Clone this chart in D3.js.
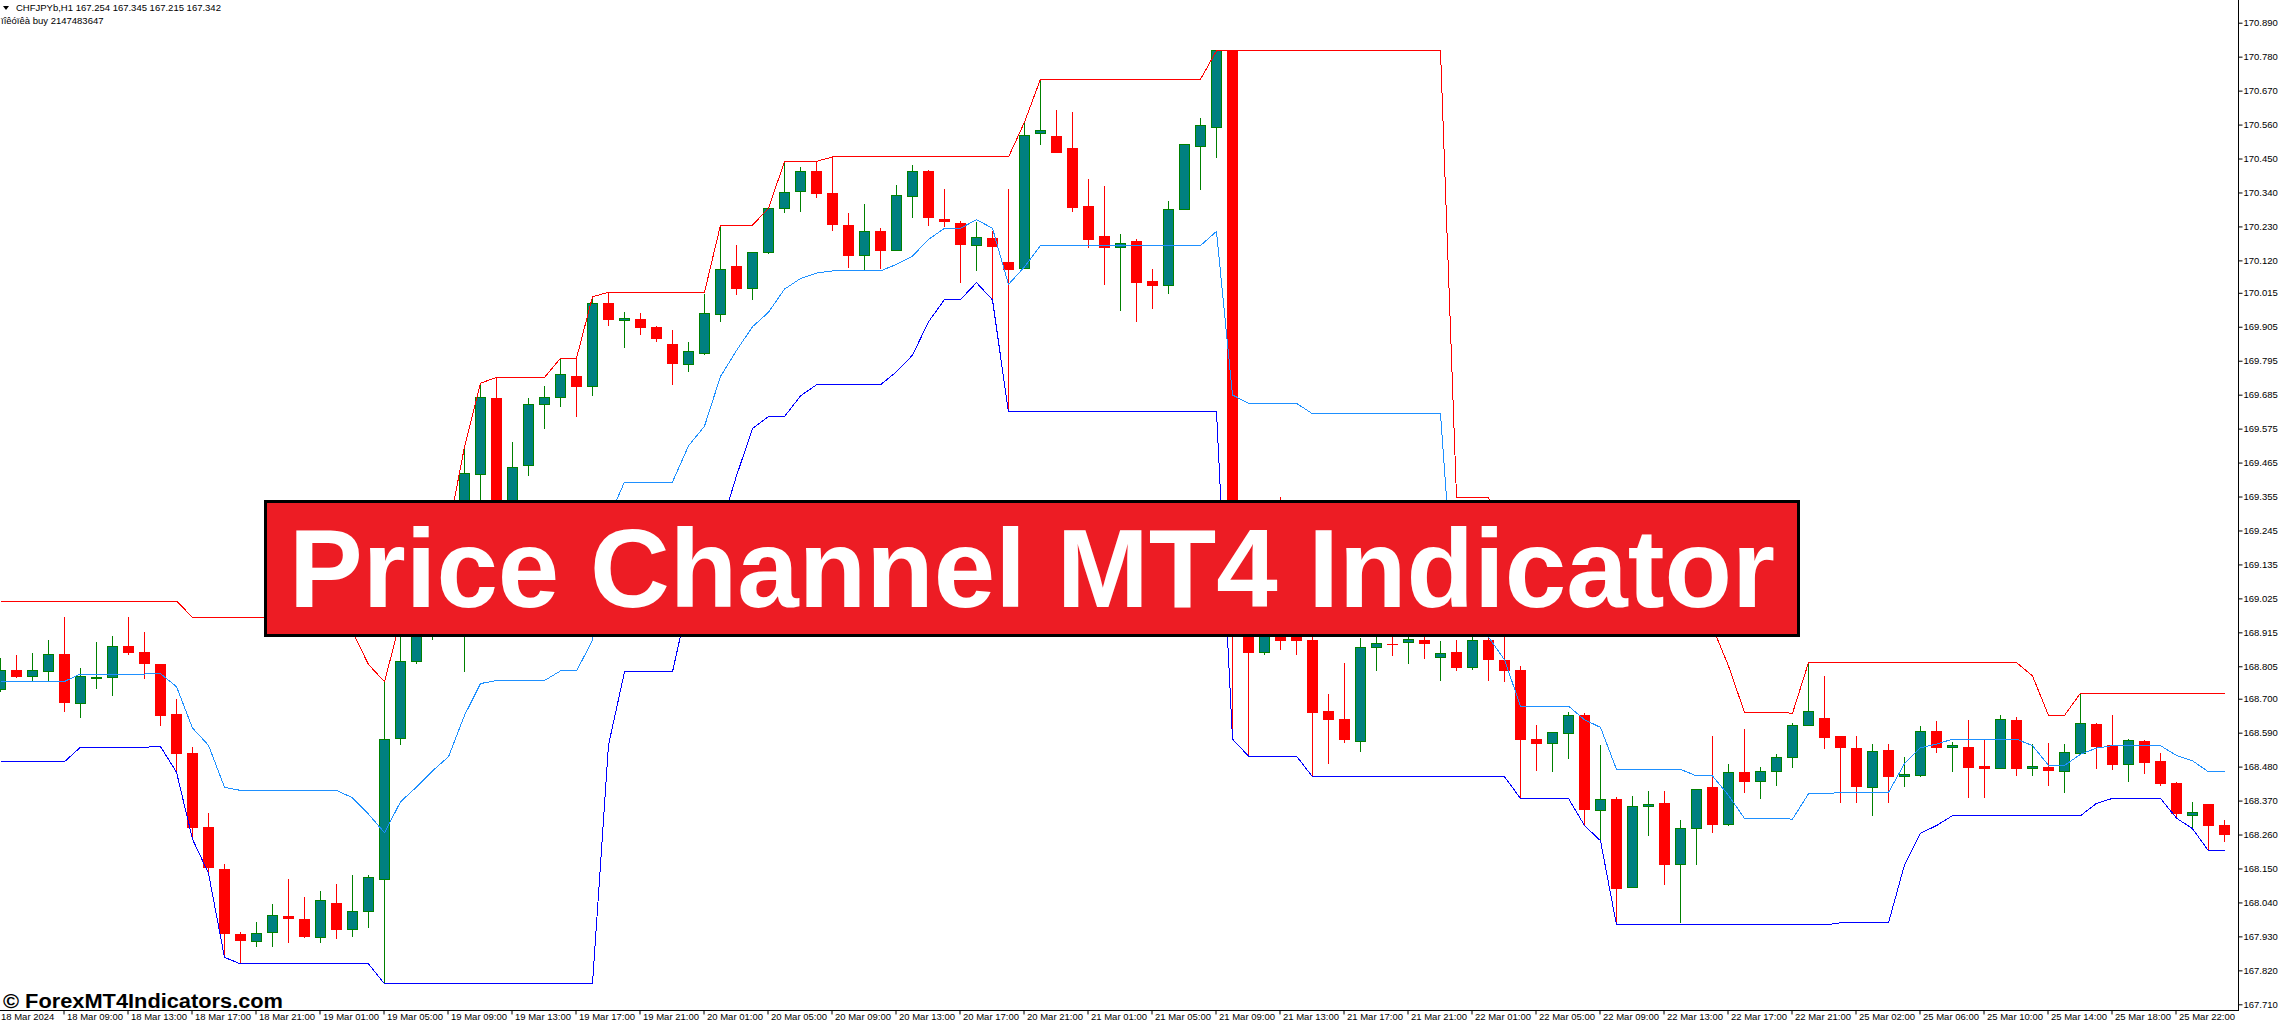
<!DOCTYPE html>
<meta charset="utf-8">
<style>
body { margin: 0; background: #fff; }
svg { display: block; font-family: "Liberation Sans", Arial, sans-serif; }
.axis text { font-size: 9.5px; fill: #000; }
.axis .domain { display: none; }
</style>
<svg width="2278" height="1025"></svg>
<script src="https://d3js.org/d3.v7.min.js"></script>
<script>
// CHFJPY H1 bars, oldest first
var open = [
  168.730, 168.792, 168.771, 168.789, 168.844, 168.684, 168.765, 168.768, 168.870, 168.850,
  168.811, 168.650, 168.523, 168.283, 168.147, 167.937, 167.914, 167.943, 167.995, 167.985,
  167.927, 168.038, 167.953, 168.011, 168.115, 168.572, 168.820, 168.981, 169.130, 169.149,
  169.427, 169.674, 169.279, 169.455, 169.654, 169.676, 169.745, 169.711, 169.979, 169.926,
  169.930, 169.904, 169.849, 169.783, 169.818, 169.944, 170.099, 170.028, 170.145, 170.289,
  170.342, 170.409, 170.337, 170.234, 170.135, 170.214, 170.153, 170.328, 170.409, 170.253,
  170.240, 170.168, 170.192, 170.114, 170.093, 170.530, 170.520, 170.484, 170.296, 170.196,
  170.161, 170.180, 170.053, 170.038, 170.284, 170.488, 170.550, 170.799, 169.020, 168.849,
  168.955, 168.923, 168.890, 168.660, 168.634, 168.561, 168.866, 168.877, 168.881, 168.889,
  168.834, 168.851, 168.800, 168.889, 168.825, 168.793, 168.569, 168.554, 168.588, 168.647,
  168.338, 168.374, 168.089, 168.350, 168.359, 168.162, 168.279, 168.413, 168.292, 168.462,
  168.431, 168.464, 168.509, 168.612, 168.637, 168.576, 168.540, 168.412, 168.531, 168.447,
  168.451, 168.595, 168.541, 168.541, 168.480, 168.473, 168.631, 168.473, 168.478, 168.464,
  168.522, 168.618, 168.548, 168.486, 168.560, 168.495, 168.424, 168.322, 168.356, 168.288
];
var high = [
  168.831, 168.842, 168.847, 168.890, 168.964, 168.799, 168.884, 168.902, 168.964, 168.916,
  168.811, 168.698, 168.543, 168.329, 168.165, 167.944, 167.976, 168.035, 168.116, 168.057,
  168.077, 168.100, 168.129, 168.129, 168.755, 168.955, 169.052, 169.156, 169.247, 169.516,
  169.722, 169.741, 169.532, 169.674, 169.713, 169.803, 169.803, 170.002, 170.017, 169.954,
  169.951, 169.907, 169.894, 169.856, 170.011, 170.234, 170.170, 170.147, 170.289, 170.440,
  170.423, 170.441, 170.455, 170.274, 170.303, 170.224, 170.364, 170.429, 170.412, 170.350,
  170.247, 170.245, 170.215, 170.351, 170.568, 170.707, 170.607, 170.601, 170.384, 170.362,
  170.205, 170.189, 170.092, 170.312, 170.496, 170.581, 170.799, 170.799, 169.085, 169.020,
  169.353, 169.204, 168.939, 168.715, 168.817, 168.897, 168.923, 168.916, 168.929, 168.923,
  168.887, 168.889, 168.974, 168.916, 168.932, 168.806, 168.615, 168.591, 168.656, 168.653,
  168.549, 168.381, 168.385, 168.402, 168.402, 168.307, 168.407, 168.579, 168.488, 168.602,
  168.479, 168.521, 168.622, 168.817, 168.774, 168.576, 168.579, 168.553, 168.553, 168.511,
  168.612, 168.629, 168.560, 168.631, 168.570, 168.646, 168.640, 168.552, 168.557, 168.552,
  168.718, 168.620, 168.646, 168.570, 168.566, 168.523, 168.431, 168.364, 168.356, 168.307
];
var low = [
  168.721, 168.768, 168.758, 168.758, 168.658, 168.638, 168.731, 168.710, 168.842, 168.765,
  168.613, 168.462, 168.245, 168.134, 167.862, 167.841, 167.897, 167.897, 167.910, 167.926,
  167.910, 167.921, 167.929, 167.958, 167.776, 168.550, 168.812, 168.890, 169.020, 168.787,
  169.020, 169.149, 169.253, 169.422, 169.575, 169.646, 169.614, 169.681, 169.908, 169.837,
  169.878, 169.857, 169.717, 169.759, 169.813, 169.921, 170.008, 169.993, 170.141, 170.274,
  170.278, 170.323, 170.216, 170.096, 170.086, 170.093, 170.149, 170.258, 170.232, 170.227,
  170.048, 170.087, 169.992, 169.629, 170.093, 170.494, 170.469, 170.278, 170.161, 170.040,
  169.957, 169.921, 169.963, 170.012, 170.284, 170.349, 170.453, 168.569, 168.514, 168.843,
  168.858, 168.843, 168.447, 168.489, 168.558, 168.528, 168.791, 168.839, 168.811, 168.828,
  168.758, 168.790, 168.794, 168.758, 168.755, 168.377, 168.467, 168.464, 168.506, 168.289,
  168.240, 167.967, 168.089, 168.256, 168.097, 167.974, 168.162, 168.264, 168.289, 168.396,
  168.374, 168.418, 168.475, 168.612, 168.538, 168.361, 168.363, 168.321, 168.361, 168.415,
  168.447, 168.525, 168.464, 168.379, 168.377, 168.473, 168.451, 168.451, 168.418, 168.396,
  168.522, 168.473, 168.469, 168.431, 168.456, 168.417, 168.313, 168.279, 168.207, 168.236
];
var close = [
  168.793, 168.771, 168.792, 168.844, 168.687, 168.771, 168.770, 168.870, 168.849, 168.813,
  168.645, 168.522, 168.282, 168.154, 167.940, 167.917, 167.940, 167.998, 167.987, 167.929,
  168.047, 167.952, 168.011, 168.121, 168.569, 168.822, 168.987, 169.133, 169.230, 169.430,
  169.677, 169.214, 169.450, 169.654, 169.677, 169.751, 169.711, 169.979, 169.928, 169.932,
  169.902, 169.866, 169.785, 169.826, 169.949, 170.091, 170.028, 170.147, 170.289, 170.341,
  170.409, 170.336, 170.236, 170.135, 170.214, 170.153, 170.331, 170.409, 170.258, 170.245,
  170.171, 170.195, 170.164, 170.090, 170.526, 170.542, 170.471, 170.290, 170.189, 170.161,
  170.176, 170.047, 170.038, 170.285, 170.494, 170.558, 170.799, 169.052, 168.849, 168.971,
  168.890, 168.890, 168.655, 168.632, 168.567, 168.866, 168.879, 168.875, 168.892, 168.878,
  168.847, 168.800, 168.889, 168.826, 168.791, 168.568, 168.554, 168.589, 168.646, 168.340,
  168.374, 168.086, 168.351, 168.356, 168.162, 168.280, 168.407, 168.292, 168.462, 168.431,
  168.465, 168.511, 168.614, 168.660, 168.574, 168.541, 168.415, 168.530, 168.447, 168.453,
  168.595, 168.541, 168.549, 168.476, 168.473, 168.633, 168.473, 168.480, 168.467, 168.526,
  168.620, 168.546, 168.486, 168.563, 168.493, 168.424, 168.329, 168.330, 168.289, 168.259
];

// Price Channel lines
var upper = [
  169.016, 169.016, 169.016, 169.016, 169.016, 169.016, 169.016, 169.016, 169.016, 169.016,
  169.016, 169.016, 168.964, 168.964, 168.964, 168.964, 168.964, 168.964, 168.964, 168.964,
  168.964, 168.964, 168.916, 168.811, 168.755, 168.955, 169.052, 169.156, 169.247, 169.516,
  169.722, 169.741, 169.741, 169.741, 169.741, 169.803, 169.803, 170.002, 170.017, 170.017,
  170.017, 170.017, 170.017, 170.017, 170.017, 170.234, 170.234, 170.234, 170.289, 170.440,
  170.440, 170.441, 170.455, 170.455, 170.455, 170.455, 170.455, 170.455, 170.455, 170.455,
  170.455, 170.455, 170.455, 170.455, 170.568, 170.707, 170.707, 170.707, 170.707, 170.707,
  170.707, 170.707, 170.707, 170.707, 170.707, 170.707, 170.799, 170.799, 170.799, 170.799,
  170.799, 170.799, 170.799, 170.799, 170.799, 170.799, 170.799, 170.799, 170.799, 170.799,
  170.799, 169.353, 169.353, 169.353, 169.204, 168.974, 168.974, 168.974, 168.974, 168.974,
  168.974, 168.974, 168.974, 168.974, 168.974, 168.974, 168.932, 168.932, 168.806, 168.656,
  168.656, 168.656, 168.653, 168.817, 168.817, 168.817, 168.817, 168.817, 168.817, 168.817,
  168.817, 168.817, 168.817, 168.817, 168.817, 168.817, 168.817, 168.774, 168.646, 168.646,
  168.718, 168.718, 168.718, 168.718, 168.718, 168.718, 168.718, 168.718, 168.718, 168.718
];
var middle = [
  168.756, 168.756, 168.756, 168.756, 168.756, 168.780, 168.780, 168.780, 168.780, 168.780,
  168.781, 168.739, 168.605, 168.549, 168.413, 168.403, 168.403, 168.403, 168.403, 168.403,
  168.403, 168.403, 168.379, 168.326, 168.266, 168.366, 168.414, 168.466, 168.512, 168.646,
  168.749, 168.759, 168.759, 168.759, 168.759, 168.790, 168.790, 168.889, 169.284, 169.402,
  169.402, 169.402, 169.402, 169.519, 169.583, 169.744, 169.828, 169.905, 169.952, 170.027,
  170.061, 170.079, 170.086, 170.086, 170.086, 170.086, 170.107, 170.134, 170.188, 170.224,
  170.224, 170.252, 170.224, 170.042, 170.099, 170.168, 170.168, 170.168, 170.168, 170.168,
  170.168, 170.168, 170.168, 170.168, 170.168, 170.168, 170.214, 169.684, 169.657, 169.657,
  169.657, 169.657, 169.623, 169.623, 169.623, 169.623, 169.623, 169.623, 169.623, 169.623,
  169.623, 168.900, 168.900, 168.900, 168.826, 168.676, 168.676, 168.676, 168.676, 168.632,
  168.607, 168.471, 168.471, 168.471, 168.471, 168.471, 168.450, 168.450, 168.387, 168.312,
  168.312, 168.312, 168.310, 168.392, 168.392, 168.396, 168.396, 168.396, 168.396, 168.490,
  168.541, 168.553, 168.569, 168.569, 168.569, 168.569, 168.569, 168.548, 168.484, 168.484,
  168.520, 168.540, 168.548, 168.548, 168.548, 168.548, 168.516, 168.499, 168.463, 168.463
];
var lower = [
  168.496, 168.496, 168.496, 168.496, 168.496, 168.543, 168.543, 168.543, 168.543, 168.543,
  168.545, 168.462, 168.245, 168.134, 167.862, 167.841, 167.841, 167.841, 167.841, 167.841,
  167.841, 167.841, 167.841, 167.841, 167.776, 167.776, 167.776, 167.776, 167.776, 167.776,
  167.776, 167.776, 167.776, 167.776, 167.776, 167.776, 167.776, 167.776, 168.550, 168.787,
  168.787, 168.787, 168.787, 169.020, 169.149, 169.253, 169.422, 169.575, 169.614, 169.614,
  169.681, 169.717, 169.717, 169.717, 169.717, 169.717, 169.759, 169.813, 169.921, 169.993,
  169.993, 170.048, 169.992, 169.629, 169.629, 169.629, 169.629, 169.629, 169.629, 169.629,
  169.629, 169.629, 169.629, 169.629, 169.629, 169.629, 169.629, 168.569, 168.514, 168.514,
  168.514, 168.514, 168.447, 168.447, 168.447, 168.447, 168.447, 168.447, 168.447, 168.447,
  168.447, 168.447, 168.447, 168.447, 168.447, 168.377, 168.377, 168.377, 168.377, 168.289,
  168.240, 167.967, 167.967, 167.967, 167.967, 167.967, 167.967, 167.967, 167.967, 167.967,
  167.967, 167.967, 167.967, 167.967, 167.967, 167.974, 167.974, 167.974, 167.974, 168.162,
  168.264, 168.289, 168.321, 168.321, 168.321, 168.321, 168.321, 168.321, 168.321, 168.321,
  168.321, 168.361, 168.377, 168.377, 168.377, 168.377, 168.313, 168.279, 168.207, 168.207
];

var priceTicks = ["170.890", "170.780", "170.670", "170.560", "170.450", "170.340", "170.230",
  "170.120", "170.015", "169.905", "169.795", "169.685", "169.575", "169.465", "169.355",
  "169.245", "169.135", "169.025", "168.915", "168.805", "168.700", "168.590", "168.480",
  "168.370", "168.260", "168.150", "168.040", "167.930", "167.820", "167.710"];

var timeBars = [0, 4, 8, 12, 16, 20, 24, 28, 32, 36, 40, 44, 48, 52, 56, 60, 64, 68,
  72, 76, 80, 84, 88, 92, 96, 100, 104, 108, 112, 116, 120, 124, 128, 132, 136];
var timeLabels = ["18 Mar 2024", "18 Mar 09:00", "18 Mar 13:00", "18 Mar 17:00", "18 Mar 21:00",
  "19 Mar 01:00", "19 Mar 05:00", "19 Mar 09:00", "19 Mar 13:00", "19 Mar 17:00", "19 Mar 21:00",
  "20 Mar 01:00", "20 Mar 05:00", "20 Mar 09:00", "20 Mar 13:00", "20 Mar 17:00", "20 Mar 21:00",
  "21 Mar 01:00", "21 Mar 05:00", "21 Mar 09:00", "21 Mar 13:00", "21 Mar 17:00", "21 Mar 21:00",
  "22 Mar 01:00", "22 Mar 05:00", "22 Mar 09:00", "22 Mar 13:00", "22 Mar 17:00", "22 Mar 21:00",
  "25 Mar 02:00", "25 Mar 06:00", "25 Mar 10:00", "25 Mar 14:00", "25 Mar 18:00", "25 Mar 22:00"];

var bullFill = "#008080", bullLine = "#008000", bearColor = "#ff0000";

var svg = d3.select("svg"),
    plotRight = 2238,
    plotBottom = 1010;

var x = d3.scaleLinear().domain([0, 139]).range([0.5, 0.5 + 16 * 139]);
var y = d3.scaleLinear().domain([167.710, 170.890]).range([1004.3, 22.7]);

var idx = d3.range(open.length);
var isBull = function(i) { return close[i] >= open[i]; };

var candles = svg.append("g").attr("shape-rendering", "crispEdges");

candles.selectAll("line.wick")
  .data(idx)
  .enter().append("line")
    .attr("class", "wick")
    .attr("x1", function(i) { return x(i); })
    .attr("x2", function(i) { return x(i); })
    .attr("y1", function(i) { return y(high[i]); })
    .attr("y2", function(i) { return y(low[i]); })
    .attr("stroke", function(i) { return isBull(i) ? bullLine : bearColor; });

candles.selectAll("rect.body")
  .data(idx)
  .enter().append("rect")
    .attr("class", "body")
    .attr("x", function(i) { return x(i) - 5; })
    .attr("width", 10)
    .attr("y", function(i) { return y(Math.max(open[i], close[i])); })
    .attr("height", function(i) { return Math.abs(y(open[i]) - y(close[i])); })
    .attr("fill", function(i) { return isBull(i) ? bullFill : bearColor; })
    .attr("stroke", function(i) { return isBull(i) ? bullLine : bearColor; });

// channel lines
var line = d3.line()
    .x(function(d, i) { return x(i); })
    .y(function(d) { return y(d); });

[[upper, "#ff0000"], [middle, "#1e90ff"], [lower, "#0000ff"]].forEach(function(s) {
  svg.append("path")
    .attr("d", line(s[0]))
    .attr("fill", "none")
    .attr("stroke", s[1])
    .attr("stroke-width", 1)
    .attr("shape-rendering", "crispEdges");
});

// axes
svg.append("line")
  .attr("x1", plotRight + 0.5).attr("x2", plotRight + 0.5)
  .attr("y1", 0).attr("y2", plotBottom + 1)
  .attr("stroke", "#000");
svg.append("line")
  .attr("x1", 0).attr("x2", plotRight + 1)
  .attr("y1", plotBottom + 0.5).attr("y2", plotBottom + 0.5)
  .attr("stroke", "#000");

svg.append("g")
  .attr("class", "axis")
  .attr("transform", "translate(" + (plotRight + 0.5) + ",0)")
  .call(d3.axisRight(y)
    .tickValues(priceTicks.map(Number))
    .tickFormat(function(d, i) { return priceTicks[i]; })
    .tickSize(4)
    .tickPadding(1))
  .selectAll("text").attr("font-family", "Liberation Sans, Arial, sans-serif");

var xAxis = svg.append("g")
  .attr("class", "axis")
  .attr("transform", "translate(-1," + (plotBottom + 0.5) + ")")
  .call(d3.axisBottom(x)
    .tickValues(timeBars)
    .tickFormat(function(d, i) { return timeLabels[i]; })
    .tickSize(4));
xAxis.selectAll("text")
  .attr("text-anchor", "start")
  .attr("x", 3)
  .attr("y", 3)
  .attr("font-family", "Liberation Sans, Arial, sans-serif");
xAxis.selectAll(".tick").filter(function(d) { return d === 0; }).select("line").remove();
xAxis.selectAll(".tick").filter(function(d) { return d === 0; }).select("text").attr("x", 1);

// header
svg.append("path").attr("d", "M3,6L9,6L6,10Z").attr("fill", "#000");
svg.append("text")
  .attr("x", 16).attr("y", 10.5)
  .attr("font-size", "9.5px")
  .text("CHFJPYb,H1  167.254 167.345 167.215 167.342");
svg.append("text")
  .attr("x", 1).attr("y", 23.5)
  .attr("font-size", "9.5px")
  .text("ïîêóïêà buy 2147483647");

// title banner
svg.append("rect")
  .attr("x", 265.5).attr("y", 501.5)
  .attr("width", 1533).attr("height", 134)
  .attr("fill", "#ed1c24")
  .attr("stroke", "#000")
  .attr("stroke-width", 3);
svg.append("text")
  .attr("x", 1032).attr("y", 607)
  .attr("text-anchor", "middle")
  .attr("font-size", "111px")
  .attr("font-weight", "bold")
  .attr("fill", "#fff")
  .attr("textLength", 1486)
  .attr("lengthAdjust", "spacingAndGlyphs")
  .text("Price Channel MT4 Indicator");

// watermark
svg.append("text")
  .attr("x", 3).attr("y", 1008)
  .attr("font-size", "20px")
  .attr("font-weight", "bold")
  .attr("fill", "#000")
  .attr("textLength", 280)
  .attr("lengthAdjust", "spacingAndGlyphs")
  .text("© ForexMT4Indicators.com");
</script>
